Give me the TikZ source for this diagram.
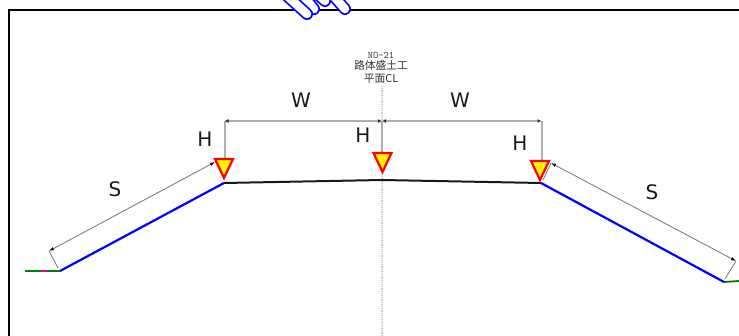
\documentclass[tikz,border=0pt]{standalone}
\usepackage{fontspec}
\usetikzlibrary{arrows.meta}
\setmainfont{DejaVu Sans}
\newfontfamily\cjk{Noto Sans CJK JP}
\definecolor{dimgray}{RGB}{175,175,175}
\tikzset{
  dimline/.style={draw=dimgray,line width=2pt},
  dimtip/.style={draw=black!50,line width=0.9pt,{Latex[length=5pt,width=3.5pt,black]}-{Latex[length=5pt,width=3.5pt,black]}},
  wtip/.style={draw=dimgray,line width=2pt,{Latex[length=4pt,width=4pt,black!80]}-{Latex[length=4pt,width=4pt,black!80]}},
  dimtick/.style={draw=black!50,line width=0.9pt},
  dimlabel/.style={font=\fontsize{20}{20}\selectfont,text=black!90,inner sep=0pt},
  marker/.style={draw=red,line width=2.2pt,fill=yellow,line join=miter},
  finger/.style={draw=blue,line width=1.7pt,double=white,double distance=8.6pt,line cap=round},
  note/.style={font=\cjk\fontsize{10.8}{10.8}\selectfont,text=black!80,inner sep=0pt}
}
\begin{document}
\begin{tikzpicture}[x=1pt,y=-1pt]
        \useasboundingbox (0,0) rectangle (739,336);
        % frame
        \coordinate (frameA) at (8.5,336);
        \coordinate (frameB) at (8.5,10.5);
        \coordinate (frameC) at (739,10.5);
        \draw[line width=2pt] (frameA) -- (frameB) -- (frameC);
        % center line
        \coordinate (clTop) at (382,86);
        \coordinate (clBot) at (382,336);
        \draw[black!20,line width=1.2pt,densely dotted] (clTop) -- (clBot);
        % road points
        \coordinate (toeL) at (60,271);
        \coordinate (edgeL) at (224,183);
        \coordinate (crown) at (382,180);
        \coordinate (edgeR) at (541,183);
        \coordinate (toeR) at (724,282);
        \coordinate (endL) at (25,271);
        \coordinate (endR) at (739,281);
        \coordinate (pinkA) at (41,271);
        \coordinate (pinkB) at (47,271);
        % ground
        \draw[black!90,line width=2pt] (edgeL) -- (crown) -- (edgeR);
        \draw[blue,line width=2.2pt] (toeL) -- (edgeL);
        \draw[blue,line width=2.2pt] (edgeR) -- (toeR);
        \draw[green!50!black,line width=1.8pt] (endL) -- (toeL);
        \draw[magenta,line width=1.8pt] (pinkA) -- (pinkB);
        \draw[green!50!black,line width=1.8pt] (toeR) -- (endR);
        % dimension lines
        \coordinate (topL) at (224.5,121);
        \coordinate (topC) at (382,121);
        \coordinate (topR) at (541.5,121);
        \coordinate (dropL) at (224.5,160);
        \coordinate (dropC) at (382,154);
        \coordinate (dropR) at (541.5,162);
        \draw[dimline] (topL) -- (dropL);
        \draw[dimline] (topR) -- (dropR);
        \draw[dimline] (topC) -- (dropC);
        \draw[wtip] (topL) -- (topC);
        \draw[wtip] (topC) -- (topR);
        \coordinate (sA) at (49,251);
        \coordinate (sB) at (215,162);
        \coordinate (sC) at (551,163);
        \coordinate (sD) at (736,261);
        \coordinate (tickA) at (58,268);
        \coordinate (tickB) at (725,279);
        \coordinate (tickC) at (543,180);
        \draw[dimtip] (sA) -- (sB);
        \draw[dimtip] (sC) -- (sD);
        \draw[dimtick] (tickA) -- (sA);
        \draw[dimtick] (tickB) -- (sD);
        \draw[dimtick] (tickC) -- (sC);
        % markers
        \foreach \px/\py in {224/159,382.5/153,540/161}
          \draw[marker] (\px-9,\py) -- (\px+9,\py) -- (\px,\py+19) -- cycle;
        % labels
        \node[dimlabel] (wL) at (301,100) {W};
        \node[dimlabel] (wR) at (460,100) {W};
        \node[dimlabel] (hL) at (205,139) {H};
        \node[dimlabel] (hC) at (363,135) {H};
        \node[dimlabel] (hR) at (520,143) {H};
        \node[dimlabel] (sL) at (115,189) {S};
        \node[dimlabel] (sR) at (652,192) {S};
        \node[note,font=\ttfamily\fontsize{10}{10}\selectfont] (no) at (381,55) {NO-21};
        \node[note] (koji) at (381,65) {路体盛土工};
        \node[note] (heimen) at (381,79) {平面CL};
        % cursor
        \coordinate (fourA) at (330,-8);
        \coordinate (fourB) at (345,9);
        \coordinate (threeA) at (315,-8);
        \coordinate (threeB) at (325,1);
        \coordinate (twoA) at (300,-8);
        \coordinate (twoB) at (314,9);
        \coordinate (oneA) at (285,-6);
        \coordinate (oneB) at (307,14);
        \draw[finger] (fourA) -- (fourB);
        \draw[finger] (threeA) -- (threeB);
        \draw[finger] (twoA) -- (twoB);
        \draw[finger] (oneA) -- (oneB);
\end{tikzpicture}
\end{document}
